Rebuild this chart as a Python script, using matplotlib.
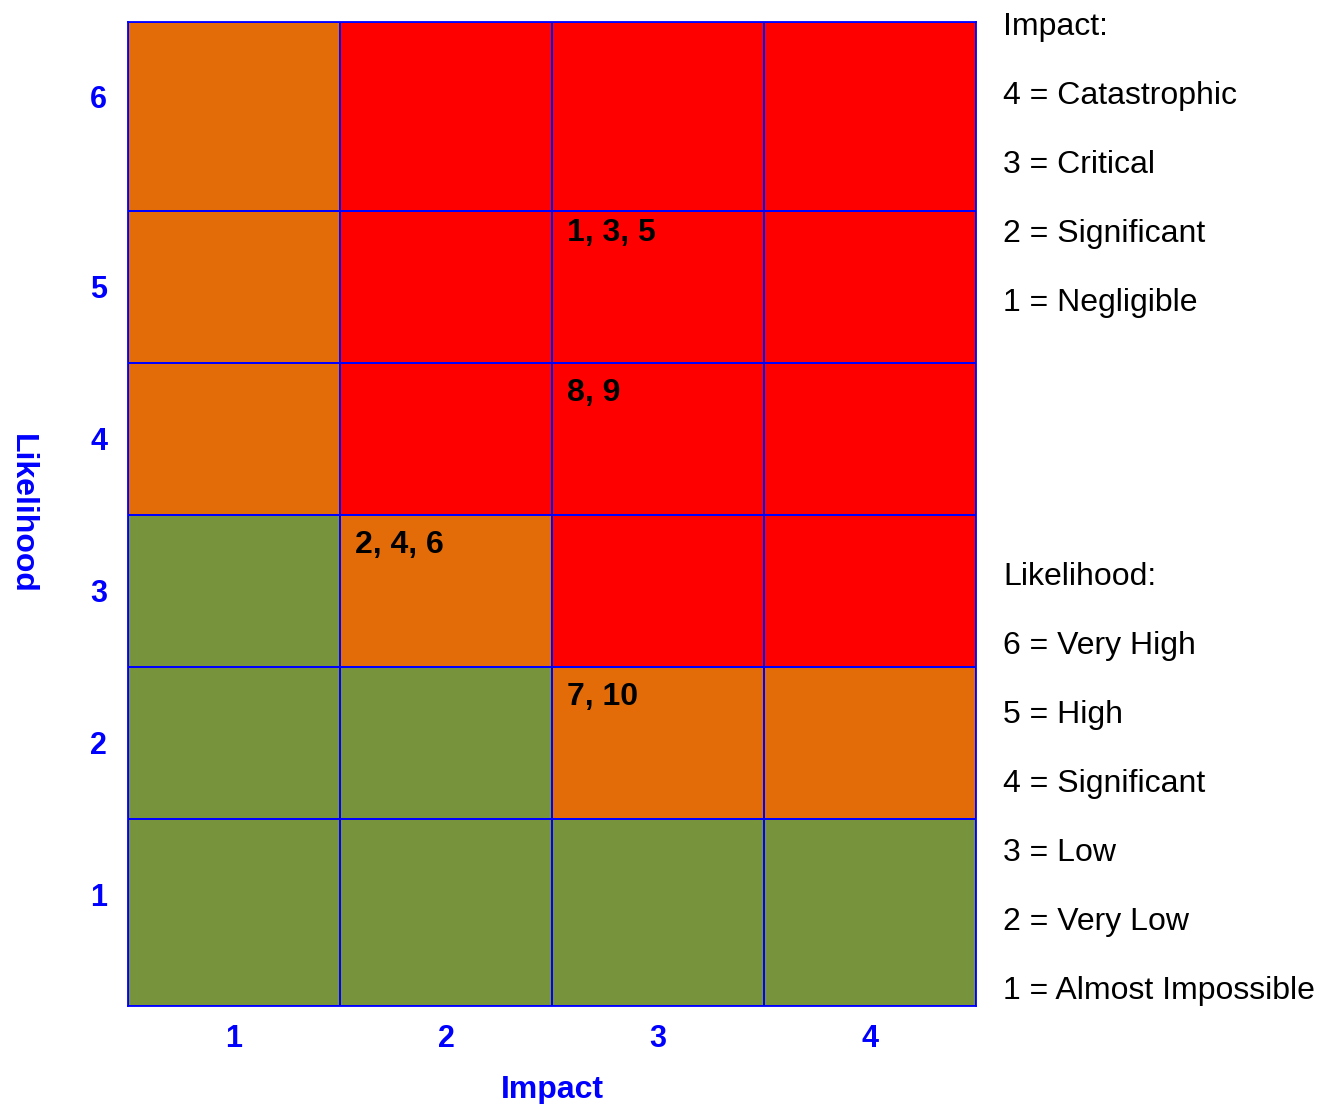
import matplotlib.pyplot as plt
import numpy as np
from matplotlib.colors import ListedColormap

plt.rcParams["font.family"] = ["Liberation Sans", "DejaVu Sans"]

# risk matrix: rows are likelihood 1..6, columns are impact 1..4
# 0 = low (green), 1 = medium (orange), 2 = high (red)
impact_levels = [1, 2, 3, 4]
likelihood_levels = [1, 2, 3, 4, 5, 6]
risk_grid = np.array([
    [0, 0, 0, 0],  # likelihood 1
    [0, 0, 1, 1],  # likelihood 2
    [0, 1, 2, 2],  # likelihood 3
    [1, 2, 2, 2],  # likelihood 4
    [1, 2, 2, 2],  # likelihood 5
    [1, 2, 2, 2],  # likelihood 6
])
risk_colors = ["#77933C", "#E36C09", "#FF0000"]

# risk ids placed in cells: (impact, likelihood, label)
cell_impact = [3, 3, 2, 3]
cell_likelihood = [5, 4, 3, 2]
cell_labels = ["1, 3, 5", "8, 9", "2, 4, 6", "7, 10"]

impact_legend = ["Impact:", "4 = Catastrophic", "3 = Critical", "2 = Significant", "1 = Negligible"]
likelihood_legend = [
    "Likelihood:", "6 = Very High", "5 = High", "4 = Significant",
    "3 = Low", "2 = Very Low", "1 = Almost Impossible",
]

blue = "#0000FF"
y_lo, y_hi = 0.27, 6.74
label_dy = [0.35, 0.30, 0.30, 0.30]  # vertical placement of the cell labels

fig = plt.figure(figsize=(13.23, 11.04), dpi=100)
ax = fig.add_axes([128 / 1323, 1 - 1006 / 1104, 848 / 1323, 984 / 1104])

x_edges = np.arange(len(impact_levels) + 1) + 0.5
y_edges = np.arange(len(likelihood_levels) + 1) + 0.5
y_edges[0], y_edges[-1] = y_lo, y_hi
ax.pcolormesh(x_edges, y_edges, risk_grid, cmap=ListedColormap(risk_colors),
              vmin=-0.5, vmax=2.5, edgecolors=blue, linewidth=1.1)

for xi, yi, dy, lab in zip(cell_impact, cell_likelihood, label_dy, cell_labels):
    ax.annotate(lab, xy=(xi - 0.5, yi + dy), xytext=(10.5, 0),
                textcoords="offset points", ha="left", va="center",
                fontsize=23, fontweight="bold", color="black")

ax.set_xlim(0.5, 4.5)
ax.set_ylim(y_lo, y_hi)
ax.set_xticks(impact_levels)
ax.set_xticklabels([str(v) for v in impact_levels])
ytick_pos = [1, 2, 3, 4, 5, 6.25]
ax.set_yticks(ytick_pos)
ax.set_yticklabels([str(v) for v in likelihood_levels])
ax.tick_params(axis="x", length=0, pad=13, labelsize=22, labelcolor=blue)
ax.tick_params(axis="y", length=0, pad=15, labelsize=22, labelcolor=blue)
for lab in ax.get_xticklabels() + ax.get_yticklabels():
    lab.set_fontweight("bold")
for sp in ax.spines.values():
    sp.set_color(blue)
    sp.set_linewidth(1.3)

fig.text(552 / 1323, 1 - 1090 / 1104, "Impact", ha="center", va="center",
         fontsize=23, fontweight="bold", color=blue)
fig.text(22 / 1323, 1 - 514 / 1104, "Likelihood", ha="center", va="center",
         rotation=270, fontsize=23, fontweight="bold", color=blue)

# legend text on the right
x_txt = 1003 / 1323
for i, line in enumerate(impact_legend):
    fig.text(x_txt, 1 - (35 + 69 * i) / 1104, line, ha="left", va="baseline",
             fontsize=23, color="black")
for i, line in enumerate(likelihood_legend):
    fig.text(x_txt, 1 - (585 + 69 * i) / 1104, line, ha="left", va="baseline",
             fontsize=23, color="black")

fig.savefig("out.png", dpi=100, facecolor="white")
